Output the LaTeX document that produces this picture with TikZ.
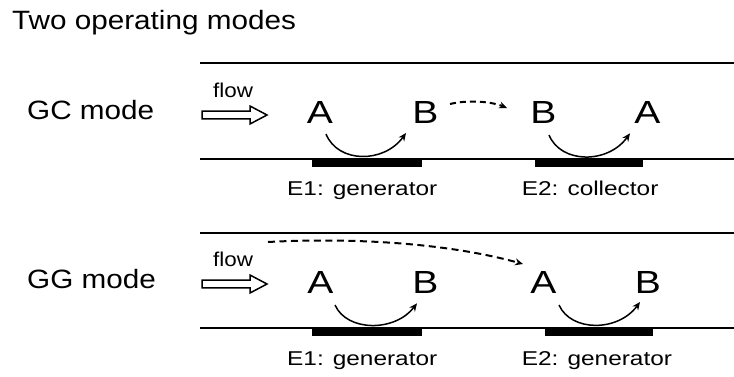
\documentclass[tikz,border=0pt]{standalone}
\usepackage{fontspec}
\setmainfont{Liberation Sans}
\newfontfamily\fmode[FakeStretch=1.12]{Liberation Sans}
\newfontfamily\flab[FakeStretch=1.22]{Liberation Sans}
\usetikzlibrary{arrows.meta}
\begin{document}
\begin{tikzpicture}[x=1pt,y=-1pt,
  titletxt/.style={anchor=base west,inner sep=0pt,font=\fmode\fontsize{26.5}{30}\selectfont},
  modetxt/.style={anchor=base west,inner sep=0pt,font=\fmode\fontsize{26.5}{30}\selectfont},
  flowtxt/.style={anchor=base west,inner sep=0pt,font=\fmode\fontsize{20}{24}\selectfont},
  species/.style={anchor=base,inner sep=0pt,font=\flab\fontsize{32}{36}\selectfont},
  eltxt/.style={anchor=base west,inner sep=0pt,font=\flab\fontsize{20}{24}\selectfont},
  wall/.style={line width=2.2pt},
  electrode/.style={fill=black,draw=none},
  react/.style={line width=1.5pt,-{Stealth[length=8pt,width=7pt]}},
  transport/.style={line width=2pt,dash pattern=on 7pt off 4.5pt,-{Stealth[length=8pt,width=7pt]}},
  flowarrow/.style={line width=1.5pt,fill=white,line join=miter}
]
\useasboundingbox (0,0) rectangle (734,376);

% title
\node[titletxt] (title) at (12,29.3) {Two operating modes};

% ================= GC mode =================
\node[modetxt] (gcmode) at (27,119.3) {GC mode};
\coordinate (gcTopL) at (200,63);  \coordinate (gcTopR) at (734,63);
\coordinate (gcBotL) at (200,159); \coordinate (gcBotR) at (734,159);
\draw[wall] (gcTopL) -- (gcTopR);
\draw[wall] (gcBotL) -- (gcBotR);
\fill[electrode] (311.7,157.5) rectangle (421.7,166.5);
\fill[electrode] (535,157.5) rectangle (643,166.5);

\node[flowtxt] (gcflow) at (213,97) {flow};
\draw[flowarrow] (202,111.2) -- (250,111.2) -- (250,106) -- (267,115) -- (250,124) -- (250,118.8) -- (202,118.8) -- cycle;

\node[species] (gcA1) at (320,123.3) {A};
\node[species] (gcB1) at (425.5,123.3) {B};
\node[species] (gcB2) at (543.5,123.3) {B};
\node[species] (gcA2) at (647.5,123.3) {A};

\coordinate (gc1s) at (326,134);  \coordinate (gc1e) at (406,133);
\coordinate (gc2s) at (549,135);  \coordinate (gc2e) at (630,133.3);
\draw[react] (gc1s) .. controls (338,163.5) and (384,163.5) .. (gc1e);
\draw[react] (gc2s) .. controls (561,164) and (608,164) .. (gc2e);

\coordinate (gcd1) at (450,104); \coordinate (gcd2) at (507,108);
\draw[transport,dash pattern=on 6pt off 4pt] (gcd1) .. controls (466,100) and (490,101) .. (gcd2);

\node[eltxt] (gcE1) at (287,195) {E1: generator};
\node[eltxt] (gcE2) at (521.7,195) {E2: collector};

% ================= GG mode =================
\node[modetxt] (ggmode) at (27,288.3) {GG mode};
\coordinate (ggTopL) at (200,233.3); \coordinate (ggTopR) at (734,233.3);
\coordinate (ggBotL) at (200,328);   \coordinate (ggBotR) at (734,328);
\draw[wall] (ggTopL) -- (ggTopR);
\draw[wall] (ggBotL) -- (ggBotR);
\fill[electrode] (311.7,326.5) rectangle (421.7,336);
\fill[electrode] (545,326.5) rectangle (653,336);

\node[flowtxt] (ggflow) at (213,266.5) {flow};
\draw[flowarrow] (202,280.2) -- (250,280.2) -- (250,275) -- (267,284) -- (250,293) -- (250,287.8) -- (202,287.8) -- cycle;

\node[species] (ggA1) at (320.5,293.3) {A};
\node[species] (ggB1) at (425.5,293.3) {B};
\node[species] (ggA2) at (543.5,293.3) {A};
\node[species] (ggB2) at (648,293.3) {B};

\coordinate (gg1s) at (335,305);  \coordinate (gg1e) at (417,303.3);
\coordinate (gg2s) at (559,305);  \coordinate (gg2e) at (640,302);
\draw[react] (gg1s) .. controls (347,332) and (395,332) .. (gg1e);
\draw[react] (gg2s) .. controls (571,332) and (618,332) .. (gg2e);

\coordinate (ggd1) at (268,242); \coordinate (ggd2) at (523,264);
\draw[transport] (ggd1) .. controls (340,238) and (440,241) .. (ggd2);

\node[eltxt] (ggE1) at (287,365) {E1: generator};
\node[eltxt] (ggE2) at (521.7,365) {E2: generator};
\end{tikzpicture}
\end{document}
